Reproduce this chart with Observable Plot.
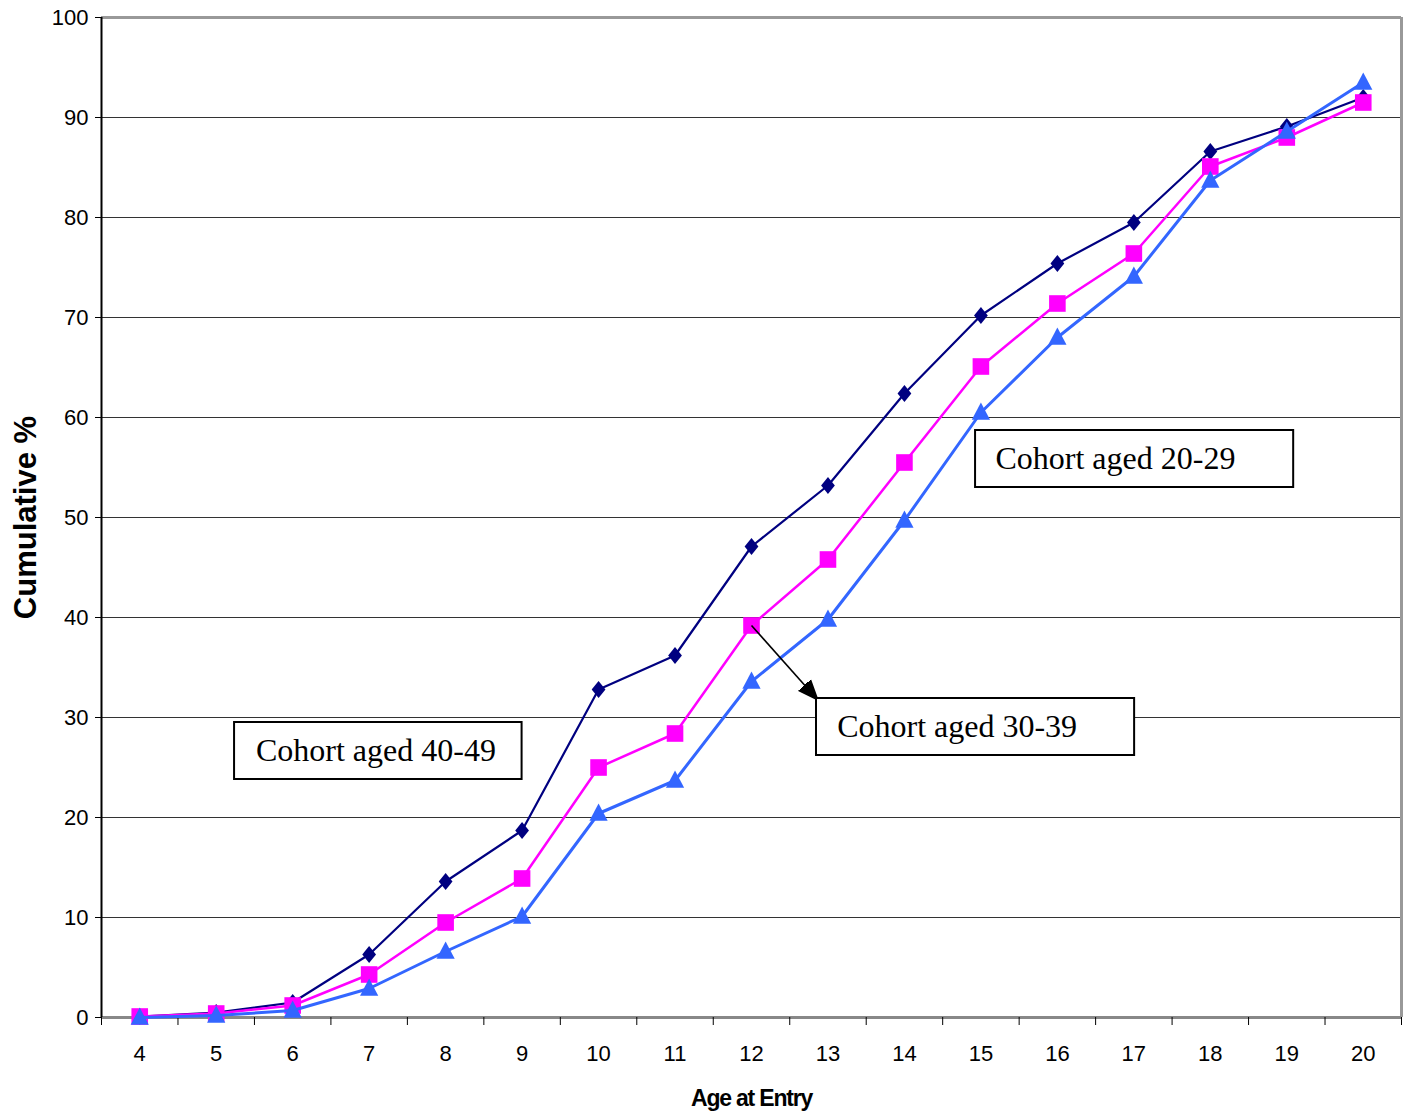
<!DOCTYPE html>
<html><head><meta charset="utf-8">
<script src="https://cdn.jsdelivr.net/npm/d3@7"></script>
<script src="https://cdn.jsdelivr.net/npm/@observablehq/plot@0.6"></script>
<style>body{margin:0;background:#fff}</style>
</head><body><div id="chart"></div>
<script>
// ---- data ----
const ages = [4,5,6,7,8,9,10,11,12,13,14,15,16,17,18,19,20];
const cohort4049 = [0.1,0.5,1.5,6.3,13.6,18.7,32.8,36.2,47.1,53.2,62.4,70.2,75.4,79.5,86.6,89.1,92.0];
const cohort3039 = [0.1,0.4,1.2,4.3,9.5,13.9,25.0,28.4,39.2,45.8,55.5,65.1,71.4,76.4,85.1,88.0,91.5];
const cohort2029 = [0.0,0.2,0.7,2.9,6.6,10.1,20.4,23.7,33.6,39.8,49.7,60.5,68.0,74.1,83.7,88.6,93.5];
const yTicks = [0,10,20,30,40,50,60,70,80,90,100];
const gridTicks = [10,20,30,40,50,60,70,80,90];
const xLabel = "Age at Entry";
const yLabel = "Cumulative %";

// annotation boxes (data units)
const boxLabels = ["Cohort aged 40-49", "Cohort aged 30-39", "Cohort aged 20-29"];
const boxX1 = [5.24, 12.85, 14.93];
const boxX2 = [9.0, 17.01, 19.09];
const boxY1 = [29.5, 31.9, 58.7];
const boxY2 = [23.8, 26.2, 53.0];
const textX = [5.52, 13.12, 15.19];
const textY = [26.65, 29.05, 55.85];
const arrowFromAge = 12; // arrow from 30-39 point at age 12 to its box corner

// ---- symbols ----
const diamondSym = {draw(ctx, size){ const r = Math.sqrt(size/Math.PI); const w = r*0.8;
  ctx.moveTo(0,-r); ctx.lineTo(w,0); ctx.lineTo(0,r); ctx.lineTo(-w,0); ctx.closePath(); }};
const squareSym = {draw(ctx, size){ const r = Math.sqrt(size/Math.PI);
  ctx.moveTo(-r,-r); ctx.lineTo(r,-r); ctx.lineTo(r,r); ctx.lineTo(-r,r); ctx.closePath(); }};
const triSym = {draw(ctx, size){ const r = Math.sqrt(size/Math.PI);
  ctx.moveTo(0,-1.15*r); ctx.lineTo(1.06*r,0.85*r); ctx.lineTo(-1.06*r,0.85*r); ctx.closePath(); }};

const series = [
  {name:"40-49", values:cohort4049, color:"#000080", sym:diamondSym, w:2.2, r:8.6},
  {name:"30-39", values:cohort3039, color:"#FF00FF", sym:squareSym, w:2.5, r:8.3},
  {name:"20-29", values:cohort2029, color:"#3366FF", sym:triSym, w:3, r:8.6}
];

const boxes = boxLabels.map((t,i) => ({t, x1:boxX1[i], x2:boxX2[i], y1:boxY1[i], y2:boxY2[i], tx:textX[i], ty:textY[i]}));
const ai = ages.indexOf(arrowFromAge);
const arrows = [{x1: arrowFromAge, y1: cohort3039[ai], x2: boxX1[1], y2: boxY1[1]}];

const arrowHead = (color) => {
  const m = d3.create("svg:marker")
    .attr("viewBox", "0 -5 10 10").attr("refX", 10).attr("refY", 0)
    .attr("markerUnits", "userSpaceOnUse").attr("markerWidth", 18).attr("markerHeight", 18)
    .attr("orient", "auto");
  m.append("path").attr("d", "M0,-4L10,0L0,4Z").attr("fill", "#000");
  return m.node();
};

const marks = [
  Plot.gridY(gridTicks, {stroke:"#333", strokeOpacity:1, strokeWidth:1}),
  Plot.ruleY([100], {stroke:"#999", strokeWidth:3}),
  Plot.ruleX([20.5], {stroke:"#999", strokeWidth:3}),
  Plot.ruleY([0], {stroke:"#888", strokeWidth:3}),
  Plot.ruleX([3.5], {stroke:"#000", strokeWidth:2}),
  Plot.axisY(yTicks, {tickSize:6, tickPadding:7, fontSize:22, label:null, stroke:"#000"}),
  Plot.axisX(d3.range(3.5, 21, 1), {tickSize:8, tickFormat:() => "", label:null}),
  Plot.axisX(ages, {tickSize:0, tickPadding:28, fontSize:22, label:null}),
  Plot.text([yLabel], {frameAnchor:"left", textAnchor:"middle", lineAnchor:"middle", dx:-75, rotate:-90, fontSize:31, fontWeight:"bold", fill:"#000"}),
  Plot.text([xLabel], {frameAnchor:"bottom", textAnchor:"middle", lineAnchor:"middle", dy:81, fontSize:23, fontWeight:"bold", fill:"#000", className:"xtitle"}),
];
for (const s of series) {
  const d = ages.map((a,i) => ({age:a, v:s.values[i]}));
  marks.push(Plot.line(d, {x:"age", y:"v", stroke:s.color, strokeWidth:s.w}));
  marks.push(Plot.dot(d, {x:"age", y:"v", r:s.r, symbol:s.sym, fill:s.color, stroke:"none"}));
}
marks.push(
  Plot.link(arrows, {x1:"x1", y1:"y1", x2:"x2", y2:"y2", stroke:"#000", strokeWidth:1.6, markerEnd:arrowHead}),
  Plot.rect(boxes, {x1:"x1", x2:"x2", y1:"y1", y2:"y2", fill:"#fff", stroke:"#000", strokeWidth:2}),
  Plot.text(boxes, {x:"tx", y:"ty", text:"t", textAnchor:"start", fontSize:32, fontFamily:"Liberation Serif, Times New Roman, serif", fill:"#000"})
);

const chart = Plot.plot({
  width: 1408, height: 1116,
  marginLeft: 101, marginRight: 7, marginTop: 17, marginBottom: 99,
  x: {type:"linear", domain:[3.5, 20.5], label:null, axis:null},
  y: {domain:[0,100], label:null, axis:null},
  style: {fontFamily:"Liberation Sans, Arial, sans-serif", background:"#fff", color:"#000"},
  marks
});
d3.select(chart).selectAll("text").filter(function(){ return this.textContent === xLabel; })
  .style("letter-spacing", "-1.2px");
document.getElementById("chart").appendChild(chart);
</script>
</body></html>
